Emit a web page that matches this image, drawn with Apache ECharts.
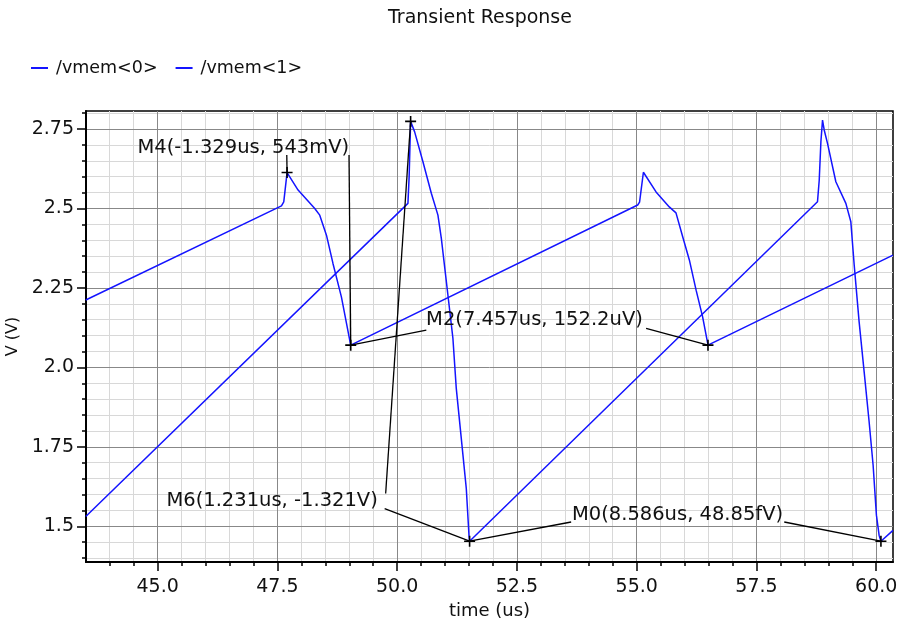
<!DOCTYPE html>
<html><head><meta charset="utf-8">
<script src="https://cdn.jsdelivr.net/npm/echarts@6/dist/echarts.min.js"></script>
<style>html,body{margin:0;padding:0;background:#fff}#c{width:900px;height:621px}</style>
</head><body><div id="c"></div>
<script>
const FONT = 'DejaVu Sans';
const titleText = 'Transient Response';
const xName = 'time (us)';
const yName = 'V (V)';
const seriesNames = ['/vmem<0>', '/vmem<1>'];

const X_MIN = 43.505, X_MAX = 60.35;
const Y_MIN = 1.3876, Y_MAX = 2.8067;

const xMajorTicks = [45, 47.5, 50, 52.5, 55, 57.5, 60];
const xTickLabels = ['45.0', '47.5', '50.0', '52.5', '55.0', '57.5', '60.0'];
const xMinorTicks = [44, 44.5, 45.5, 46, 46.5, 47, 48, 48.5, 49, 49.5, 50.5, 51, 51.5, 52, 53, 53.5, 54, 54.5, 55.5, 56, 56.5, 57, 58, 58.5, 59, 59.5];
const yMajorTicks = [1.5, 1.75, 2.0, 2.25, 2.5, 2.75];
const yTickLabels = ['1.5', '1.75', '2.0', '2.25', '2.5', '2.75'];
const yMinorTicks = [1.40, 1.45, 1.55, 1.60, 1.65, 1.70, 1.80, 1.85, 1.90, 1.95, 2.05, 2.10, 2.15, 2.20, 2.30, 2.35, 2.40, 2.45, 2.55, 2.60, 2.65, 2.70, 2.80];

// /vmem<0> (slow ramp, small spikes)
const vmem0 = [
  [43.50, 2.212], [47.585, 2.508], [47.633, 2.521], [47.702, 2.613], [47.932, 2.558],
  [48.28, 2.500], [48.384, 2.479], [48.524, 2.416], [48.66, 2.327], [48.836, 2.222],
  [49.01, 2.086], [49.031, 2.070],
  [55.021, 2.511], [55.06, 2.520], [55.14, 2.614], [55.404, 2.552], [55.68, 2.505],
  [55.82, 2.486], [55.96, 2.411], [56.099, 2.338], [56.24, 2.243], [56.376, 2.159],
  [56.48, 2.077], [56.488, 2.070],
  [60.35, 2.353]
];
// /vmem<1> (fast ramp, big spikes)
const vmem1 = [
  [43.50, 1.531], [50.225, 2.516], [50.25, 2.600], [50.281, 2.774], [50.365, 2.741],
  [50.538, 2.647], [50.713, 2.548], [50.851, 2.479], [50.922, 2.406], [51.06, 2.227],
  [51.164, 2.091], [51.234, 1.934], [51.339, 1.776], [51.443, 1.619], [51.500, 1.470],
  [51.512, 1.453],
  [58.774, 2.521], [58.81, 2.589], [58.845, 2.710], [58.879, 2.778], [58.914, 2.747],
  [58.983, 2.705], [59.157, 2.584], [59.366, 2.516], [59.47, 2.458], [59.54, 2.322],
  [59.643, 2.143], [59.748, 1.986], [59.852, 1.828], [59.935, 1.692], [60.004, 1.535],
  [60.06, 1.472], [60.098, 1.453], [60.35, 1.487]
];

// marker crosses
const markerPoints = [
  [47.702, 2.613], [49.031, 2.070], [56.488, 2.070],
  [50.281, 2.774], [51.512, 1.453], [60.098, 1.453]
];
// delta-marker labels, anchored at their left-middle point
const markerLabels = ['M4(-1.329us, 543mV)', 'M2(7.457us, 152.2uV)', 'M6(1.231us, -1.321V)', 'M0(8.586us, 48.85fV)'];
const labelAnchors = [[44.568, 2.690], [50.594, 2.1486], [45.173, 1.5787], [53.638, 1.5346]];
// callout segments: [label end point, marker point]
const calloutSegments = [
  [[47.696, 2.668], [47.702, 2.613]],
  [[48.995, 2.668], [49.031, 2.070]],
  [[50.609, 2.117], [49.031, 2.070]],
  [[55.196, 2.1225], [56.488, 2.070]],
  [[49.760, 1.603], [50.281, 2.774]],
  [[49.739, 1.5557], [51.512, 1.453]],
  [[53.632, 1.5135], [51.512, 1.453]],
  [[58.080, 1.5135], [60.098, 1.453]]
];

const BLUE = '#1414ff';
const TXT = '#111111';

const series = [
  { name: seriesNames[0], type: 'line', data: vmem0, symbol: 'none', z: 2,
    lineStyle: { color: BLUE, width: 1.5 }, itemStyle: { color: BLUE } },
  { name: seriesNames[1], type: 'line', data: vmem1, symbol: 'none', z: 2,
    lineStyle: { color: BLUE, width: 1.5 }, itemStyle: { color: BLUE } }
];
calloutSegments.forEach((seg, i) => {
  series.push({ name: 'callout' + i, type: 'line', data: seg, symbol: 'none', z: 3, silent: true,
    lineStyle: { color: '#000', width: 1.3 } });
});
series.push({
  name: 'markers', type: 'scatter', data: markerPoints, z: 4, silent: true,
  symbol: 'path://M0,6L12,6M6,0L6,12', symbolSize: 11,
  itemStyle: { color: 'none', borderColor: '#000', borderWidth: 1.6, opacity: 1 }
});
series.push({
  name: 'labels', type: 'scatter', z: 5, silent: true, symbolSize: 1,
  data: labelAnchors.map((p, i) => ({ value: p, name: markerLabels[i] })),
  itemStyle: { color: 'transparent', opacity: 1 },
  label: { show: true, position: 'right', distance: 0, formatter: '{b}', color: TXT, opacity: 1,
    fontFamily: FONT, fontSize: 19.5 }
});

const chart = echarts.init(document.getElementById('c'), null, { renderer: 'canvas' });
chart.setOption({
  animation: false,
  backgroundColor: '#fff',
  title: { text: titleText, left: 388, top: 9, padding: 0,
    textStyle: { fontFamily: FONT, fontSize: 19, fontWeight: 'normal', color: TXT } },
  legend: { data: seriesNames, left: 31, top: 59, padding: 0, itemGap: 18,
    icon: 'rect', itemWidth: 17, itemHeight: 2,
    textStyle: { fontFamily: FONT, fontSize: 17.5, color: TXT, padding: [0, 0, 0, 3] } },
  grid: { left: 86, top: 111, right: 7, bottom: 59, show: true, borderColor: '#000', borderWidth: 1.5,
    backgroundColor: '#fff', containLabel: false, outerBoundsMode: 'none' },
  xAxis: [
    { type: 'value', min: X_MIN, max: X_MAX, position: 'bottom', z: 1,
      axisLine: { show: true, onZero: false, lineStyle: { color: '#000', width: 2 } },
      axisTick: { show: true, length: 9, customValues: xMajorTicks, lineStyle: { color: '#000', width: 1.5 } },
      axisLabel: { show: true, customValues: xMajorTicks, margin: 16, fontFamily: FONT, fontSize: 19, color: TXT,
        formatter: v => xTickLabels[xMajorTicks.indexOf(v)] },
      splitLine: { show: true, lineStyle: { color: '#888888', width: 1 } },
      name: xName, nameLocation: 'middle', nameGap: 36,
      nameTextStyle: { fontFamily: FONT, fontSize: 18, color: TXT } },
    { type: 'value', min: X_MIN, max: X_MAX, position: 'bottom', z: 0,
      axisLine: { show: false, onZero: false },
      axisTick: { show: true, length: 4, customValues: xMinorTicks, lineStyle: { color: '#000', width: 1.5 } },
      axisLabel: { show: false },
      splitLine: { show: true, lineStyle: { color: '#d8d8d8', width: 1 } } }
  ],
  yAxis: [
    { type: 'value', min: Y_MIN, max: Y_MAX, position: 'left', z: 1,
      axisLine: { show: true, onZero: false, lineStyle: { color: '#000', width: 2 } },
      axisTick: { show: true, length: 9, customValues: yMajorTicks, lineStyle: { color: '#000', width: 1.5 } },
      axisLabel: { show: true, customValues: yMajorTicks, margin: 12, fontFamily: FONT, fontSize: 19, color: TXT,
        formatter: v => yTickLabels[yMajorTicks.indexOf(v)] },
      splitLine: { show: true, lineStyle: { color: '#888888', width: 1 } },
      name: yName, nameLocation: 'middle', nameGap: 60,
      nameTextStyle: { fontFamily: FONT, fontSize: 16, color: TXT } },
    { type: 'value', min: Y_MIN, max: Y_MAX, position: 'left', z: 0,
      axisLine: { show: false, onZero: false },
      axisTick: { show: true, length: 4, customValues: yMinorTicks, lineStyle: { color: '#000', width: 1.5 } },
      axisLabel: { show: false },
      splitLine: { show: true, lineStyle: { color: '#d8d8d8', width: 1 } } }
  ],
  series: series
});
</script></body></html>
